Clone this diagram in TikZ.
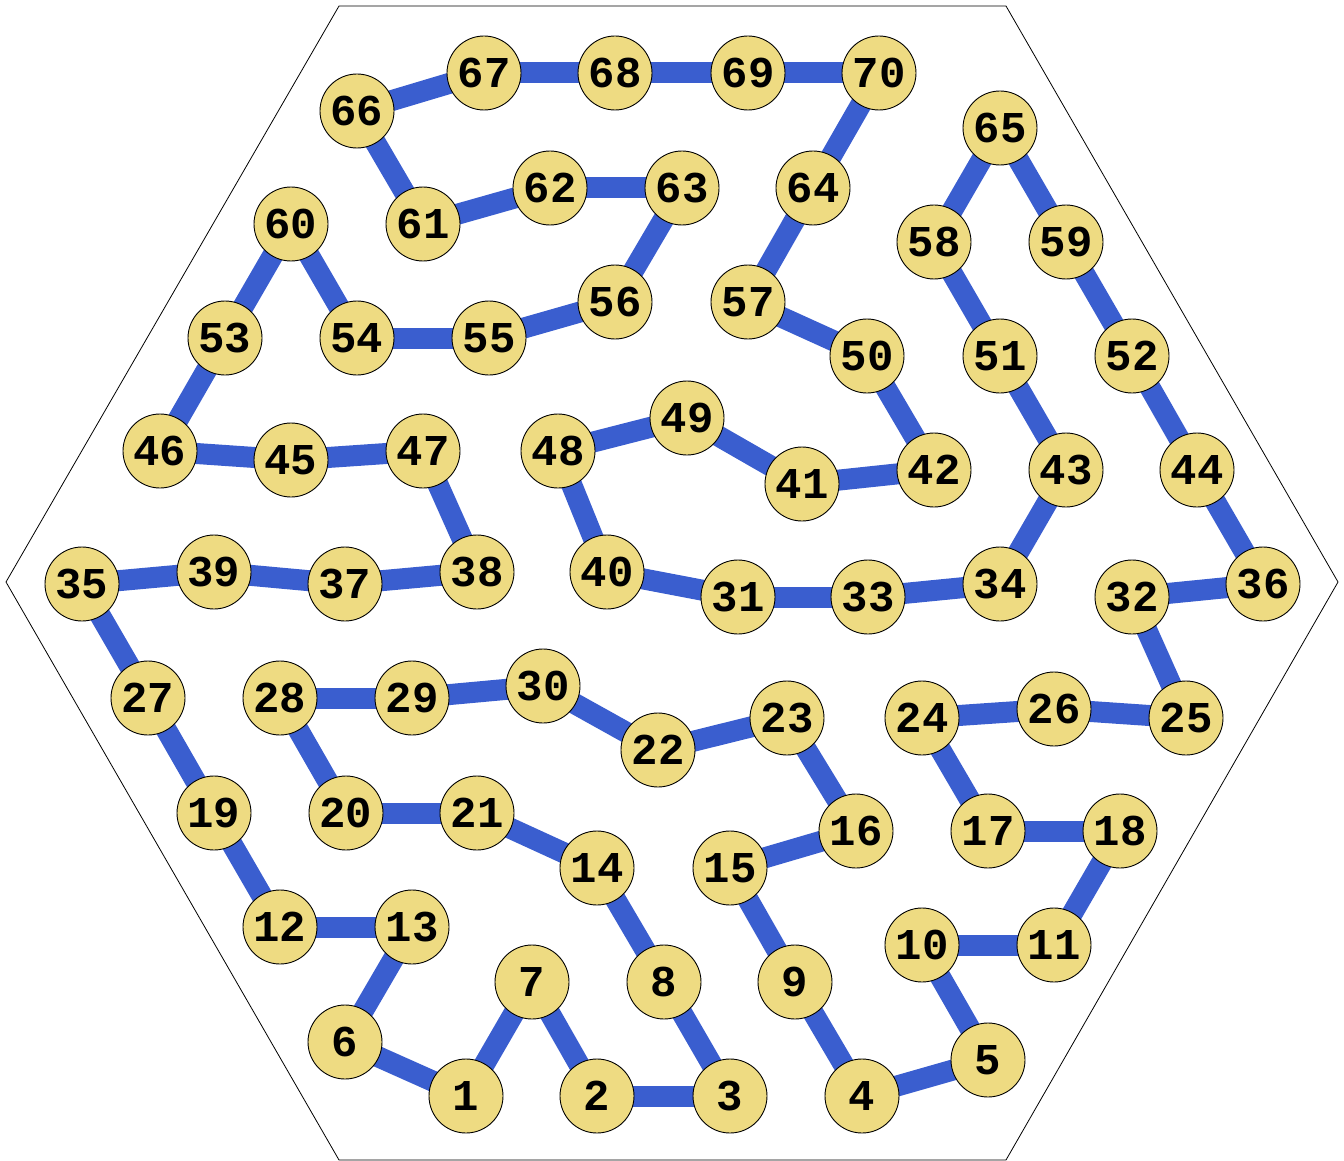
\documentclass[tikz,border=0pt]{standalone}
\usepackage{fontspec}
\newfontfamily\numfont{Liberation Mono}
\usetikzlibrary{backgrounds}
\definecolor{nodefill}{HTML}{EEDB82}
\definecolor{pathblue}{HTML}{3A5ECF}
\tikzset{
  x=1pt, y=-1pt,
  vtx/.style={circle, draw=black, line width=0.9pt, fill=nodefill, minimum size=74pt, inner sep=0pt,
    font=\numfont\bfseries\fontsize{44}{44}\selectfont},
  link/.style={draw=pathblue, line width=21pt},
  hexline/.style={draw=black, line width=0.8pt}
}
\begin{document}
\begin{tikzpicture}
\useasboundingbox (0,0) rectangle (1344,1161);
\draw[hexline] (339,6) -- (1006,6) -- (1338,582) -- (1006,1160) -- (339,1160) -- (6,582) -- cycle;
\foreach \n/\x/\y in {
1/466/1096, 2/597/1096, 3/730/1096, 4/862/1096, 5/988/1060,
6/345/1042, 7/532/982, 8/664/982, 9/795/982, 10/922/945,
11/1054/945, 12/280/927, 13/412/927, 14/597/868, 15/730/868,
16/856/831, 17/988/831, 18/1120/831, 19/214/813, 20/346/813,
21/477/813, 22/658/750, 23/787/718, 24/922/718, 25/1186/718,
26/1054/709, 27/148/698, 28/280/698, 29/412/698, 30/543/686,
31/738/597, 32/1132/597, 33/868/597, 34/1000/584, 35/82/584,
36/1263/584, 37/345/584, 38/477/572, 39/214/572, 40/607/572,
41/802/484, 42/934/470, 43/1066/470, 44/1197/470, 45/291/460,
46/160/451, 47/423/451, 48/558/451, 49/687/418, 50/867/356,
51/1000/356, 52/1132/356, 53/225/338, 54/357/338, 55/489/338,
56/615/302, 57/748/302, 58/934/242, 59/1066/242, 60/291/224,
61/423/224, 62/550/188, 63/682/188, 64/813/188, 65/1000/128,
66/357/111, 67/484/73, 68/615/73, 69/748/73, 70/879/73}
{ \node[vtx] (n\n) at (\x,\y) {\n}; }
\begin{scope}[on background layer]
\foreach \a/\b in {66/67,67/68,68/69,69/70,70/64,64/57,57/50,50/42,42/41,41/49,
49/48,48/40,40/31,31/33,33/34,34/43,43/51,51/58,58/65,65/59,59/52,52/44,44/36,
36/32,32/25,25/26,26/24,24/17,17/18,18/11,11/10,10/5,5/4,4/9,9/15,15/16,16/23,
23/22,22/30,30/29,29/28,28/20,20/21,21/14,14/8,8/3,3/2,2/7,7/1,1/6,6/13,13/12,
12/19,19/27,27/35,35/39,39/37,37/38,38/47,47/45,45/46,46/53,53/60,60/54,54/55,
55/56,56/63,63/62,62/61,61/66}
{ \draw[link] (n\a.center) -- (n\b.center); }
\end{scope}
\end{tikzpicture}
\end{document}
